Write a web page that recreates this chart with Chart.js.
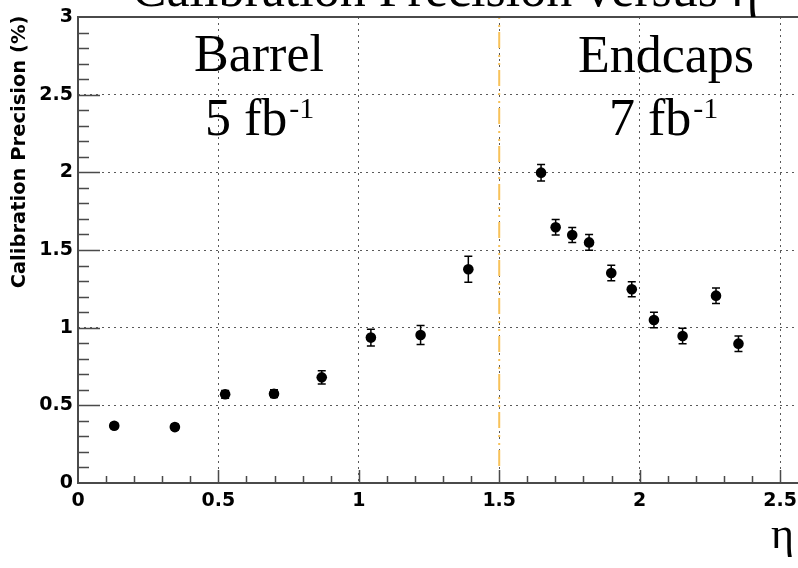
<!DOCTYPE html>
<html>
<head>
<meta charset="utf-8">
<script src="https://cdn.jsdelivr.net/npm/chart.js@4.4.1/dist/chart.umd.min.js"></script>
<style>
    html, body { margin: 0; padding: 0; background: #fff; }
    #chartBox { width: 798px; height: 568px; }
</style>
</head>
<body>
<div id="chartBox"><canvas id="precisionChart" width="798" height="568"></canvas></div>
<script>
// Calibration precision per eta ring
const etaValues = [0.129, 0.345, 0.524, 0.698, 0.868, 1.043, 1.220, 1.390,
    1.649, 1.701, 1.760, 1.820, 1.899, 1.972, 2.051, 2.153, 2.272, 2.352];
const precisionValues = [0.369, 0.360, 0.571, 0.575, 0.680, 0.936, 0.953, 1.376,
    1.998, 1.646, 1.597, 1.549, 1.352, 1.247, 1.049, 0.946, 1.206, 0.897];
const precisionErrors = [0.018, 0.018, 0.025, 0.025, 0.042, 0.054, 0.061, 0.084,
    0.053, 0.050, 0.048, 0.050, 0.050, 0.048, 0.050, 0.050, 0.050, 0.050];

// Axis ticks and ranges
const xTickValues = [0, 0.5, 1, 1.5, 2, 2.5];
const yTickValues = [0, 0.5, 1, 1.5, 2, 2.5, 3];
const xRange = [0, 2.564];
const yRange = [0, 3];

// Barrel / endcap boundary line
const boundaryEta = [1.5, 1.5];
const boundaryPrecision = [0.11, 3];

// Texts
const chartTitle = 'Calibration Precision versus η';
const yAxisTitle = 'Calibration Precision (%)';
const xAxisTitle = 'η';
const regionLabels = ['Barrel', 'Endcaps'];
const lumiLabels = ['5 fb', '7 fb'];
const lumiExponent = '-1';

const AXIS_COLOR = '#4a4a4a';
const SERIF = '"Liberation Serif", "Times New Roman", serif';

// Error bars drawn through the chart scales
const errorBarPlugin = {
    id: 'errorBars',
    afterDatasetsDraw(chart) {
        const { ctx, scales: { x, y } } = chart;
        ctx.save();
        ctx.strokeStyle = '#000';
        ctx.lineWidth = 1.5;
        etaValues.forEach((eta, i) => {
            const px = x.getPixelForValue(eta);
            const top = y.getPixelForValue(precisionValues[i] + precisionErrors[i]);
            const bottom = y.getPixelForValue(precisionValues[i] - precisionErrors[i]);
            ctx.beginPath();
            ctx.moveTo(px, top);
            ctx.lineTo(px, bottom);
            ctx.moveTo(px - 4, top);
            ctx.lineTo(px + 4, top);
            ctx.moveTo(px - 4, bottom);
            ctx.lineTo(px + 4, bottom);
            ctx.stroke();
        });
        ctx.restore();
    }
};

// ROOT-like frame with inward major and minor ticks
const framePlugin = {
    id: 'frame',
    afterDatasetsDraw(chart) {
        const { ctx, chartArea: area, scales: { x, y } } = chart;
        ctx.save();
        ctx.strokeStyle = AXIS_COLOR;
        ctx.lineWidth = 2;
        ctx.beginPath();
        ctx.moveTo(area.right, area.top);
        ctx.lineTo(area.left, area.top);
        ctx.lineTo(area.left, area.bottom);
        ctx.lineTo(area.right, area.bottom);
        ctx.stroke();

        ctx.lineWidth = 1.5;
        ctx.beginPath();
        for (let i = 1; i < 30; i++) {
            const py = Math.round(y.getPixelForValue(i / 10)) + 0.5;
            const len = (i % 5 === 0) ? 22 : 11;
            ctx.moveTo(area.left, py);
            ctx.lineTo(area.left + len, py);
        }
        for (let i = 1; i <= 25; i++) {
            const px = Math.round(x.getPixelForValue(i / 10)) + 0.5;
            const len = (i % 5 === 0) ? 13 : 7;
            ctx.moveTo(px, area.bottom);
            ctx.lineTo(px, area.bottom - len);
        }
        ctx.stroke();
        ctx.restore();
    }
};

// Title, region labels and axis titles
const textPlugin = {
    id: 'texts',
    afterDraw(chart) {
        const { ctx } = chart;
        ctx.save();
        ctx.fillStyle = '#000';
        ctx.textBaseline = 'alphabetic';

        ctx.font = '52px ' + SERIF;
        ctx.textAlign = 'center';
        ctx.fillText(chartTitle, 445, 6);
        ctx.fillText(regionLabels[0], 259, 71);
        ctx.fillText(regionLabels[1], 666, 72);

        ctx.textAlign = 'left';
        const drawLumi = (label, left, base) => {
            ctx.font = '52px ' + SERIF;
            ctx.fillText(label, left, base);
            const w = ctx.measureText(label).width;
            ctx.font = '30px ' + SERIF;
            ctx.fillText(lumiExponent, left + w + 2, base - 17);
        };
        drawLumi(lumiLabels[0], 205, 135);
        drawLumi(lumiLabels[1], 609, 135);

        ctx.font = '44px ' + SERIF;
        ctx.textAlign = 'right';
        ctx.fillText(xAxisTitle, 794, 548);

        ctx.translate(20, 152);
        ctx.rotate(-Math.PI / 2);
        ctx.font = 'bold 19.5px "DejaVu Sans", sans-serif';
        ctx.textAlign = 'center';
        ctx.textBaseline = 'middle';
        ctx.fillText(yAxisTitle, 0, 0);
        ctx.restore();
    }
};

const gridColor = (ctx, lo, hi) => {
    const v = ctx.tick ? ctx.tick.value : null;
    return (v !== null && v > lo && v < hi) ? 'rgba(60,60,60,0.85)' : 'rgba(0,0,0,0)';
};

const tickFont = { family: '"DejaVu Sans", sans-serif', weight: 'bold', size: 19 };

const ctx = document.getElementById('precisionChart');

new Chart(ctx, {
    type: 'scatter',
    data: {
        datasets: [
            {
                label: 'Calibration precision',
                data: etaValues.map((eta, i) => ({ x: eta, y: precisionValues[i] })),
                backgroundColor: '#000',
                borderColor: '#000',
                borderWidth: 0,
                pointRadius: 5.3,
                pointStyle: 'circle'
            },
            {
                type: 'line',
                label: 'Barrel / endcap boundary',
                data: boundaryEta.map((eta, i) => ({ x: eta, y: boundaryPrecision[i] })),
                borderColor: '#f8c25a',
                borderWidth: 2,
                borderDash: [16, 5, 2, 6, 2, 7],
                pointRadius: 0,
                fill: false
            }
        ]
    },
    options: {
        responsive: false,
        animation: false,
        devicePixelRatio: 1,
        layout: { autoPadding: false, padding: { top: 17, left: 0, right: 0, bottom: 0 } },
        plugins: {
            legend: { display: false },
            tooltip: { enabled: false },
            title: { display: false }
        },
        scales: {
            x: {
                type: 'linear',
                min: xRange[0],
                max: xRange[1],
                afterBuildTicks: scale => {
                    scale.ticks = xTickValues.map(v => ({ value: v }));
                },
                afterFit: scale => {
                    scale.height = 85;
                    scale.paddingLeft = 0;
                    scale.paddingRight = 0;
                },
                grid: {
                    color: c => gridColor(c, 0, 2.6),
                    lineWidth: 1,
                    drawTicks: false
                },
                border: { display: false, dash: [2, 4] },
                ticks: {
                    font: tickFont,
                    color: '#000',
                    padding: 7,
                    maxRotation: 0,
                    callback: v => String(v)
                }
            },
            y: {
                type: 'linear',
                min: yRange[0],
                max: yRange[1],
                afterBuildTicks: scale => {
                    scale.ticks = yTickValues.map(v => ({ value: v }));
                },
                afterFit: scale => {
                    scale.width = 78;
                    scale.paddingTop = 0;
                    scale.paddingBottom = 0;
                },
                grid: {
                    color: c => gridColor(c, 0, 3),
                    lineWidth: 1,
                    drawTicks: false
                },
                border: { display: false, dash: [2, 4] },
                ticks: {
                    font: tickFont,
                    color: '#000',
                    padding: 5,
                    callback: v => String(v)
                }
            }
        }
    },
    plugins: [errorBarPlugin, framePlugin, textPlugin]
});
</script>
</body>
</html>
